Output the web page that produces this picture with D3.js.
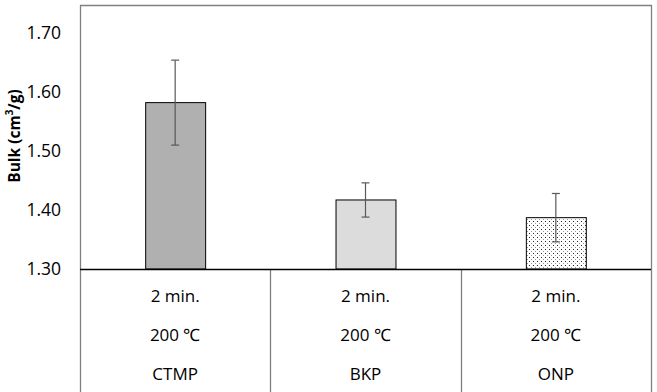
<!DOCTYPE html>
<html>
<head>
<meta charset="utf-8">
<title>Bulk</title>
<script src="https://cdn.jsdelivr.net/npm/d3@7"></script>
<style>
  body { margin: 0; background: #fff; }
  text { font-family: "Open Sans", sans-serif; fill: #000; }
</style>
</head>
<body>
<svg id="chart" width="657" height="392"></svg>
<script>
// data
var pulps = ["CTMP", "BKP", "ONP"];
var times = ["2 min.", "2 min.", "2 min."];
var temps = ["200 \u2103", "200 \u2103", "200 \u2103"];
var bulk = [1.582, 1.417, 1.387];
var errs = [0.072, 0.029, 0.041];
var yTicks = [1.30, 1.40, 1.50, 1.60, 1.70];

var svg = d3.select("#chart");
var mLeft = 80, mRight = 651, mTop = 5, base = 269, H = 392;

var x = d3.scaleBand().domain(pulps).range([mLeft, mRight]).paddingInner(0.685).paddingOuter(0.3425);
var y = d3.scaleLinear().domain([1.30, 1.70]).range([base, 33]);

// dotted fill for ONP
var defs = svg.append("defs");
var pat = defs.append("pattern").attr("id", "dots")
  .attr("patternUnits", "userSpaceOnUse").attr("width", 4).attr("height", 4);
pat.append("rect").attr("width", 4).attr("height", 4).attr("fill", "#fff");
pat.append("rect").attr("x", 1).attr("y", 1).attr("width", 1).attr("height", 1).attr("fill", "#222");
pat.append("rect").attr("x", 3).attr("y", 3).attr("width", 1).attr("height", 1).attr("fill", "#999");

var fills = ["#b0b0b0", "#dcdcdc", "url(#dots)"];

// frame
svg.append("path")
  .attr("d", "M" + (mLeft + 0.5) + "," + H + "V" + (mTop + 0.5) + "H" + (mRight + 0.5) + "V" + H)
  .attr("fill", "none").attr("stroke", "#808080").attr("stroke-width", 1.3);

// category separators
var seps = pulps.slice(1).map(function(p) { return x(p) - x.step() * x.paddingInner() / 2; });
svg.selectAll(".sep").data(seps).enter().append("line")
  .attr("x1", function(d) { return Math.round(d) + 0.5; })
  .attr("x2", function(d) { return Math.round(d) + 0.5; })
  .attr("y1", base).attr("y2", H)
  .attr("stroke", "#808080").attr("stroke-width", 1.3);

// y axis labels
var yAxis = d3.axisLeft(y).tickValues(yTicks).tickSize(0).tickPadding(19).tickFormat(d3.format(".2f"));
var ya = svg.append("g").attr("transform", "translate(" + mLeft + ",0)").call(yAxis);
ya.select(".domain").remove();
ya.selectAll("text").style("font-family", "'Open Sans', sans-serif").style("font-size", "17.5px").attr("fill", "#333");

var title = svg.append("text")
  .attr("transform", "translate(20,136) rotate(-90)")
  .attr("text-anchor", "middle")
  .style("font-size", "15.5px").style("font-weight", "bold");
title.append("tspan").text("Bulk (cm");
title.append("tspan").attr("baseline-shift", "super").style("font-size", "10px").text("3");
title.append("tspan").text("/g)");

// bars
svg.selectAll(".bar").data(pulps).enter().append("rect")
  .attr("x", function(d) { return x(d) + 0.5; })
  .attr("y", function(d, i) { return y(bulk[i]); })
  .attr("width", x.bandwidth())
  .attr("height", function(d, i) { return base - y(bulk[i]); })
  .attr("fill", function(d, i) { return fills[i]; })
  .attr("stroke", "#000").attr("stroke-width", 1);

// error bars
var eb = svg.selectAll(".err").data(pulps).enter().append("g").attr("stroke", "#595959").attr("stroke-width", 1.2);
eb.append("line")
  .attr("x1", function(d) { return x(d) + x.bandwidth() / 2; })
  .attr("x2", function(d) { return x(d) + x.bandwidth() / 2; })
  .attr("y1", function(d, i) { return y(bulk[i] + errs[i]); })
  .attr("y2", function(d, i) { return y(bulk[i] - errs[i]); });
[1, -1].forEach(function(s) {
  eb.append("line")
    .attr("x1", function(d) { return x(d) + x.bandwidth() / 2 - 4; })
    .attr("x2", function(d) { return x(d) + x.bandwidth() / 2 + 4; })
    .attr("y1", function(d, i) { return y(bulk[i] + s * errs[i]); })
    .attr("y2", function(d, i) { return y(bulk[i] + s * errs[i]); });
});

// baseline
svg.append("line").attr("x1", mLeft).attr("x2", mRight).attr("y1", base + 0.5).attr("y2", base + 0.5)
  .attr("stroke", "#000").attr("stroke-width", 1.3);

// category labels, three rows
var rows = [times, temps, pulps];
var rowY = [302, 341, 380];
rows.forEach(function(r, k) {
  svg.selectAll(".row" + k).data(pulps).enter().append("text")
    .attr("x", function(d) { return x(d) + x.bandwidth() / 2; })
    .attr("y", rowY[k])
    .attr("text-anchor", "middle")
    .style("font-size", "17px")
    .attr("fill", "#222")
    .text(function(d, i) { return r[i]; });
});
</script>
</body>
</html>
